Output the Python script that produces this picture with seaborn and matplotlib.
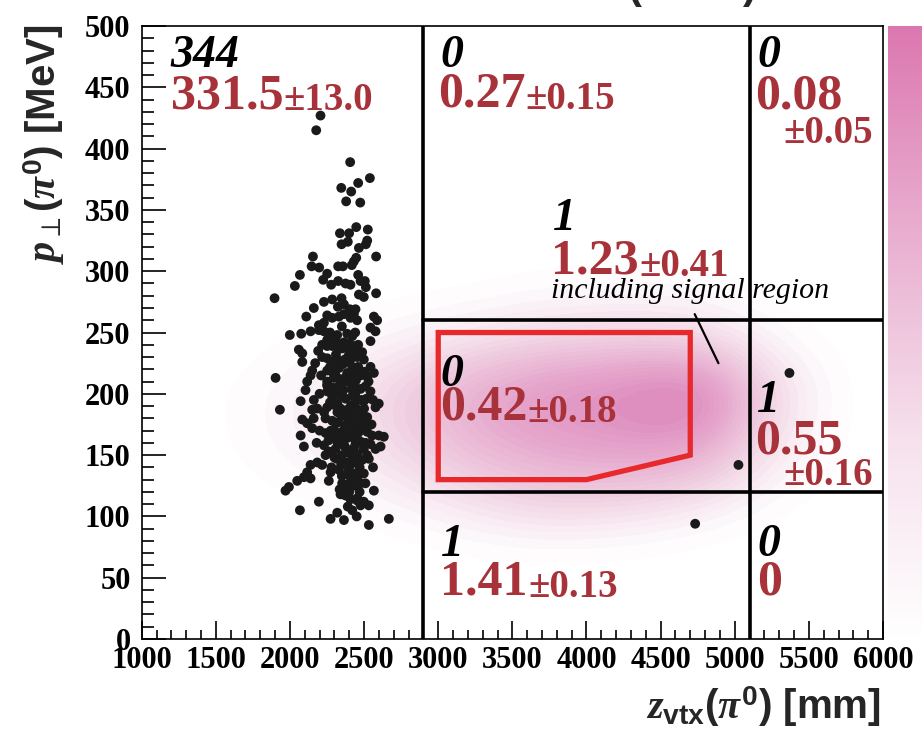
import numpy as np
import pandas as pd
import matplotlib.pyplot as plt
import seaborn as sns
from matplotlib.colors import LinearSegmentedColormap
from matplotlib.patches import Polygon

# %% data
# observed events (z_vtx in mm, p_T in MeV)
data_z = [2206, 2177, 2406, 2539, 2460, 2346, 2413, 2379, 2474, 2447, 2525, 2337, 2399, 2390,
          2348, 2521, 2512, 2465, 2581, 2155, 2447, 2431, 2146, 2197, 2325, 2357, 2417, 2067,
          2251, 2224, 2033, 2278, 2325, 2375, 2408, 2460, 2476, 2505, 2512, 2581, 1896, 2465,
          2498, 2229, 2285, 2348, 2323, 2364, 2404, 2442, 2161, 2110, 2195, 2229, 2251, 2285,
          2330, 2364, 2408, 2431, 2453, 2566, 2588, 1999, 2076, 2139, 2195, 2229, 2543, 2577,
          2251, 2285, 2319, 2386, 2420, 2060, 2083, 2543, 2217, 2251, 2285, 2319, 2352, 2397,
          2431, 2453, 2487, 2083, 2217, 2251, 2285, 2319, 2364, 2408, 2453, 2498, 2543, 2150,
          2139, 1903, 2251, 2285, 2330, 2386, 2442, 2476, 2521, 2566, 2116, 2105, 2072, 2161,
          2251, 2296, 2341, 2386, 2431, 2476, 2509, 2543, 2251, 2285, 2330, 2375, 2420, 2453,
          2498, 2184, 2150, 1932, 2577, 2599, 2251, 2296, 2341, 2386, 2442, 2487, 2521, 2083,
          2116, 2150, 2240, 2285, 2330, 2375, 2420, 2476, 2521, 2554, 2599, 2633, 2072, 2094,
          2240, 2285, 2341, 2386, 2431, 2476, 2543, 2577, 2611, 2229, 2262, 2307, 2364, 2408,
          2453, 2498, 2184, 2139, 2217, 2274, 2330, 2375, 2408, 2453, 2487, 2532, 2116, 2094,
          2049, 2139, 2386, 2408, 2453, 2498, 1993, 1970, 2262, 2352, 2386, 2431, 2476, 2509,
          2566, 2341, 2375, 2408, 2453, 2498, 2532, 2476, 2195, 2067, 2274, 2319, 2364, 2532,
          2667,
          2270, 2300, 2350, 2400, 2440, 2310, 2370, 2420, 2460, 2270, 2340, 2400, 2460, 2500,
          2290, 2360, 2410, 2440, 2480, 2270, 2320, 2390, 2430, 2460, 2500, 2300, 2360, 2400,
          2460, 2510, 2260, 2320, 2350, 2420, 2470, 2300, 2390, 2440, 2520, 2280, 2350, 2430,
          2470, 2400, 2420, 2450, 2390, 2480, 2560, 2550, 2560, 2530, 2200, 2210, 2190, 2230,
          2200, 2180, 2170, 2160,
          2310, 2335, 2365, 2395, 2425, 2355, 2305, 2335, 2380, 2415, 2445, 2290, 2320, 2355,
          2385, 2425, 2470, 2310, 2345, 2375, 2405, 2435, 2495, 2275, 2330, 2370, 2440, 2490,
          2315, 2345, 2395, 2425, 2365, 2335, 2405, 2455, 2240, 2515, 2525, 2250,
          5369, 5025, 4733]
data_pt = [427, 415, 389, 376, 372, 368, 365, 357, 356, 336, 334, 331, 331, 324,
           322, 325, 322, 319, 312, 312, 311, 308, 304, 303, 304, 304, 305, 297,
           298, 293, 288, 289, 292, 290, 289, 297, 292, 292, 287, 282, 278, 281,
           279, 275, 277, 278, 271, 273, 269, 269, 270, 263, 256, 258, 264, 262,
           263, 265, 262, 265, 260, 263, 260, 248, 249, 251, 252, 251, 254, 251,
           244, 247, 248, 249, 247, 236, 233, 243, 240, 239, 239, 240, 237, 241,
           239, 234, 234, 226, 230, 229, 226, 228, 225, 228, 230, 228, 222, 219,
           215, 213, 219, 218, 221, 217, 218, 215, 214, 217, 210, 203, 194, 195,
           210, 213, 209, 210, 207, 204, 206, 202, 202, 198, 200, 196, 198, 195,
           194, 188, 187, 187, 189, 192, 189, 191, 188, 187, 189, 185, 181, 179,
           176, 172, 180, 178, 177, 174, 176, 173, 169, 166, 166, 165, 166, 157,
           168, 165, 168, 164, 165, 161, 159, 155, 157, 158, 153, 155, 158, 154,
           151, 155, 144, 142, 142, 136, 138, 144, 142, 144, 146, 147, 136, 132,
           129, 131, 135, 132, 131, 135, 124, 121, 129, 127, 124, 125, 127, 127,
           121, 118, 117, 114, 113, 112, 109, 109, 112, 105, 98, 103, 97, 93,
           98,
           250, 245, 255, 235, 250, 232, 228, 222, 240, 222, 212, 215, 222, 218,
           205, 203, 190, 200, 195, 193, 185, 180, 182, 178, 188, 170, 170, 166,
           168, 160, 162, 160, 150, 148, 140, 148, 152, 158, 150, 140, 133, 135,
           120, 120, 105, 100, 108, 135, 140, 175, 195, 210, 200, 215, 235, 185,
           170, 160, 225, 180,
           243, 237, 242, 231, 237, 224, 216, 207, 214, 204, 211, 196, 192, 198,
           184, 191, 186, 176, 182, 172, 183, 171, 179, 170, 163, 157, 162, 171,
           147, 142, 140, 130, 126, 122, 127, 115, 150, 196, 176, 207,
           217, 142, 94]

# signal MC density (relative), on a coarse grid
dens_z = [1750, 2250, 2750, 3250, 3750, 4250, 4750, 5250, 5750]
dens_pt = [75, 100, 125, 150, 175, 200, 225, 250, 275, 300]
dens_w = [
    [0.00, 0.00, 0.01, 0.04, 0.06, 0.05, 0.02, 0.00, 0.00],
    [0.00, 0.02, 0.06, 0.16, 0.24, 0.20, 0.12, 0.02, 0.00],
    [0.02, 0.06, 0.16, 0.32, 0.42, 0.42, 0.35, 0.08, 0.00],
    [0.04, 0.12, 0.26, 0.45, 0.55, 0.58, 0.58, 0.16, 0.00],
    [0.05, 0.16, 0.32, 0.55, 0.65, 0.70, 0.80, 0.22, 0.00],
    [0.05, 0.16, 0.32, 0.55, 0.68, 0.72, 0.90, 0.25, 0.00],
    [0.03, 0.10, 0.22, 0.40, 0.50, 0.55, 0.60, 0.16, 0.00],
    [0.01, 0.04, 0.10, 0.18, 0.26, 0.28, 0.28, 0.06, 0.00],
    [0.00, 0.01, 0.03, 0.06, 0.10, 0.12, 0.10, 0.02, 0.00],
    [0.00, 0.00, 0.00, 0.01, 0.03, 0.05, 0.04, 0.00, 0.00],
]

# region boundaries and signal box
z_cuts = [2900, 5100]
pt_cuts = [120, 260]
sig_z = [3000, 3000, 4700, 4700, 4000]
sig_pt = [130, 250, 250, 150, 130]

# numbers per region: observed / expected / error
n_obs = ['344', '0', '0', '1', '0', '1', '1', '0']
n_exp = ['331.5', '0.27', '0.08', '1.23', '0.42', '0.55', '1.41', '0']
n_err = ['±13.0', '±0.15', '±0.05', '±0.41', '±0.18', '±0.16', '±0.13', '']

# %% style
sns.set_style('white')
plt.rcParams['font.family'] = ['Liberation Serif', 'DejaVu Sans']
plt.rcParams['mathtext.fontset'] = 'custom'
plt.rcParams['mathtext.it'] = 'Liberation Serif:italic:bold'
plt.rcParams['mathtext.rm'] = 'Liberation Sans:bold'
plt.rcParams['mathtext.bf'] = 'Liberation Sans:bold'

red = '#a8323a'
pink = LinearSegmentedColormap.from_list('pink', ['#ffffff', '#f6e0ec', '#e9aed0', '#dc78b0'])
blob = LinearSegmentedColormap.from_list('blob', ['#ffffff', '#f3dbe8', '#e9b4d3', '#de8cbe'])

fig = plt.figure(figsize=(9.22, 7.45), dpi=100)
ax = fig.add_axes([0.1537, 0.1423, 0.804, 0.8227])

# %% signal density
zz, pp = np.meshgrid(dens_z, dens_pt)
dens = pd.DataFrame({'z': zz.ravel(), 'pt': pp.ravel(), 'w': np.array(dens_w).ravel()})
sns.kdeplot(data=dens, x='z', y='pt', weights='w', fill=True, levels=25, thresh=0.03,
            cmap=blob, bw_adjust=0.72, ax=ax, zorder=0)

# %% region lines
for zc in z_cuts:
    ax.axvline(zc, color='black', lw=2.6, zorder=2)
for pc in pt_cuts:
    ax.plot([z_cuts[0], 6000], [pc, pc], color='black', lw=2.6, zorder=2)

ax.add_patch(Polygon(np.column_stack([sig_z, sig_pt]), closed=True, fill=False,
                     edgecolor='#e8292b', lw=3.8, joinstyle='miter', zorder=3))
ax.plot([4730, 4890], [265, 225], color='black', lw=1.6, zorder=3)

# %% events
sns.scatterplot(x=data_z, y=data_pt, color='#1a1a1a', s=50, edgecolor='none',
                ax=ax, zorder=4, legend=False)

# %% region numbers
obs_pos = [(1195, 467), (3015, 467), (5151, 467), (3776, 334),
           (3015, 206), (5151, 185), (3015, 68), (5151, 68)]
exp_pos = [(1195, 433), (3001, 434), (5137, 433), (3763, 298),
           (3015, 179), (5137, 151), (3015, 36), (5151, 36)]
split = {2: (5326, 405), 5: (5326, 126)}

for i in range(len(n_obs)):
    ax.text(*obs_pos[i], n_obs[i], fontsize=33, weight='bold', style='italic',
            color='black', va='baseline', zorder=5)
    t = ax.text(*exp_pos[i], n_exp[i], fontsize=36, weight='bold', color=red,
                va='baseline', zorder=5)
    if n_err[i] == '':
        continue
    if i in split:
        ax.text(*split[i], n_err[i], fontsize=28, weight='bold', color=red,
                va='baseline', zorder=5)
    else:
        ax.annotate(n_err[i], xy=(1, 0), xycoords=t, fontsize=28, weight='bold',
                    color=red, va='bottom', zorder=5)

ax.text(3763, 278, 'including signal region', fontsize=21.5, style='italic',
        color='black', va='baseline', zorder=5)

# %% axes
ax.set_xlim(1000, 6000)
ax.set_ylim(0, 500)
ax.set_xticks(np.arange(1000, 6001, 500))
ax.set_yticks(np.arange(0, 501, 50))
ax.set_xticks(np.arange(1000, 6001, 100), minor=True)
ax.set_yticks(np.arange(0, 501, 10), minor=True)
ax.set_xlabel('')
ax.set_ylabel('')
ax.tick_params(axis='both', which='both', direction='in', labelsize=22, colors='black',
               width=1.2)
ax.tick_params(axis='x', which='major', length=13, pad=5)
ax.tick_params(axis='x', which='minor', length=6.5)
ax.tick_params(axis='y', which='major', length=17, pad=8)
ax.tick_params(axis='y', which='minor', length=8.5)
ax.tick_params(left=True, bottom=True, top=False, right=False, which='both')
for lab in ax.get_xticklabels() + ax.get_yticklabels():
    lab.set_fontweight('bold')
for sp in ax.spines.values():
    sp.set_color('black')
    sp.set_linewidth(1.2)

fig.text(0.048, 0.968, r'$\mathit{p}_{\perp}(\mathit{\pi}^{0})$ [MeV]', rotation=90,
         ha='center', va='top', fontsize=29, family='Liberation Sans', weight='bold')
fig.text(0.955, 0.022, r'$\mathit{z}_{\mathrm{vtx}}(\mathit{\pi}^{0})$ [mm]',
         ha='right', va='bottom', fontsize=29, family='Liberation Sans', weight='bold')

# cut-off title above the frame
fig.text(628 / 922, 0.99, '(', ha='left', va='bottom', fontsize=30,
         family='Liberation Sans', weight='bold')
fig.text(757 / 922, 0.99, ')', ha='right', va='bottom', fontsize=30,
         family='Liberation Sans', weight='bold')

# %% colour scale
cax = fig.add_axes([888 / 922, 0.1423, 0.06, 0.8227])
cax.imshow(np.linspace(1, 0, 256)[:, None], aspect='auto', cmap=pink, vmin=0, vmax=1)
cax.axis('off')

fig.savefig('out.png', dpi=100)
